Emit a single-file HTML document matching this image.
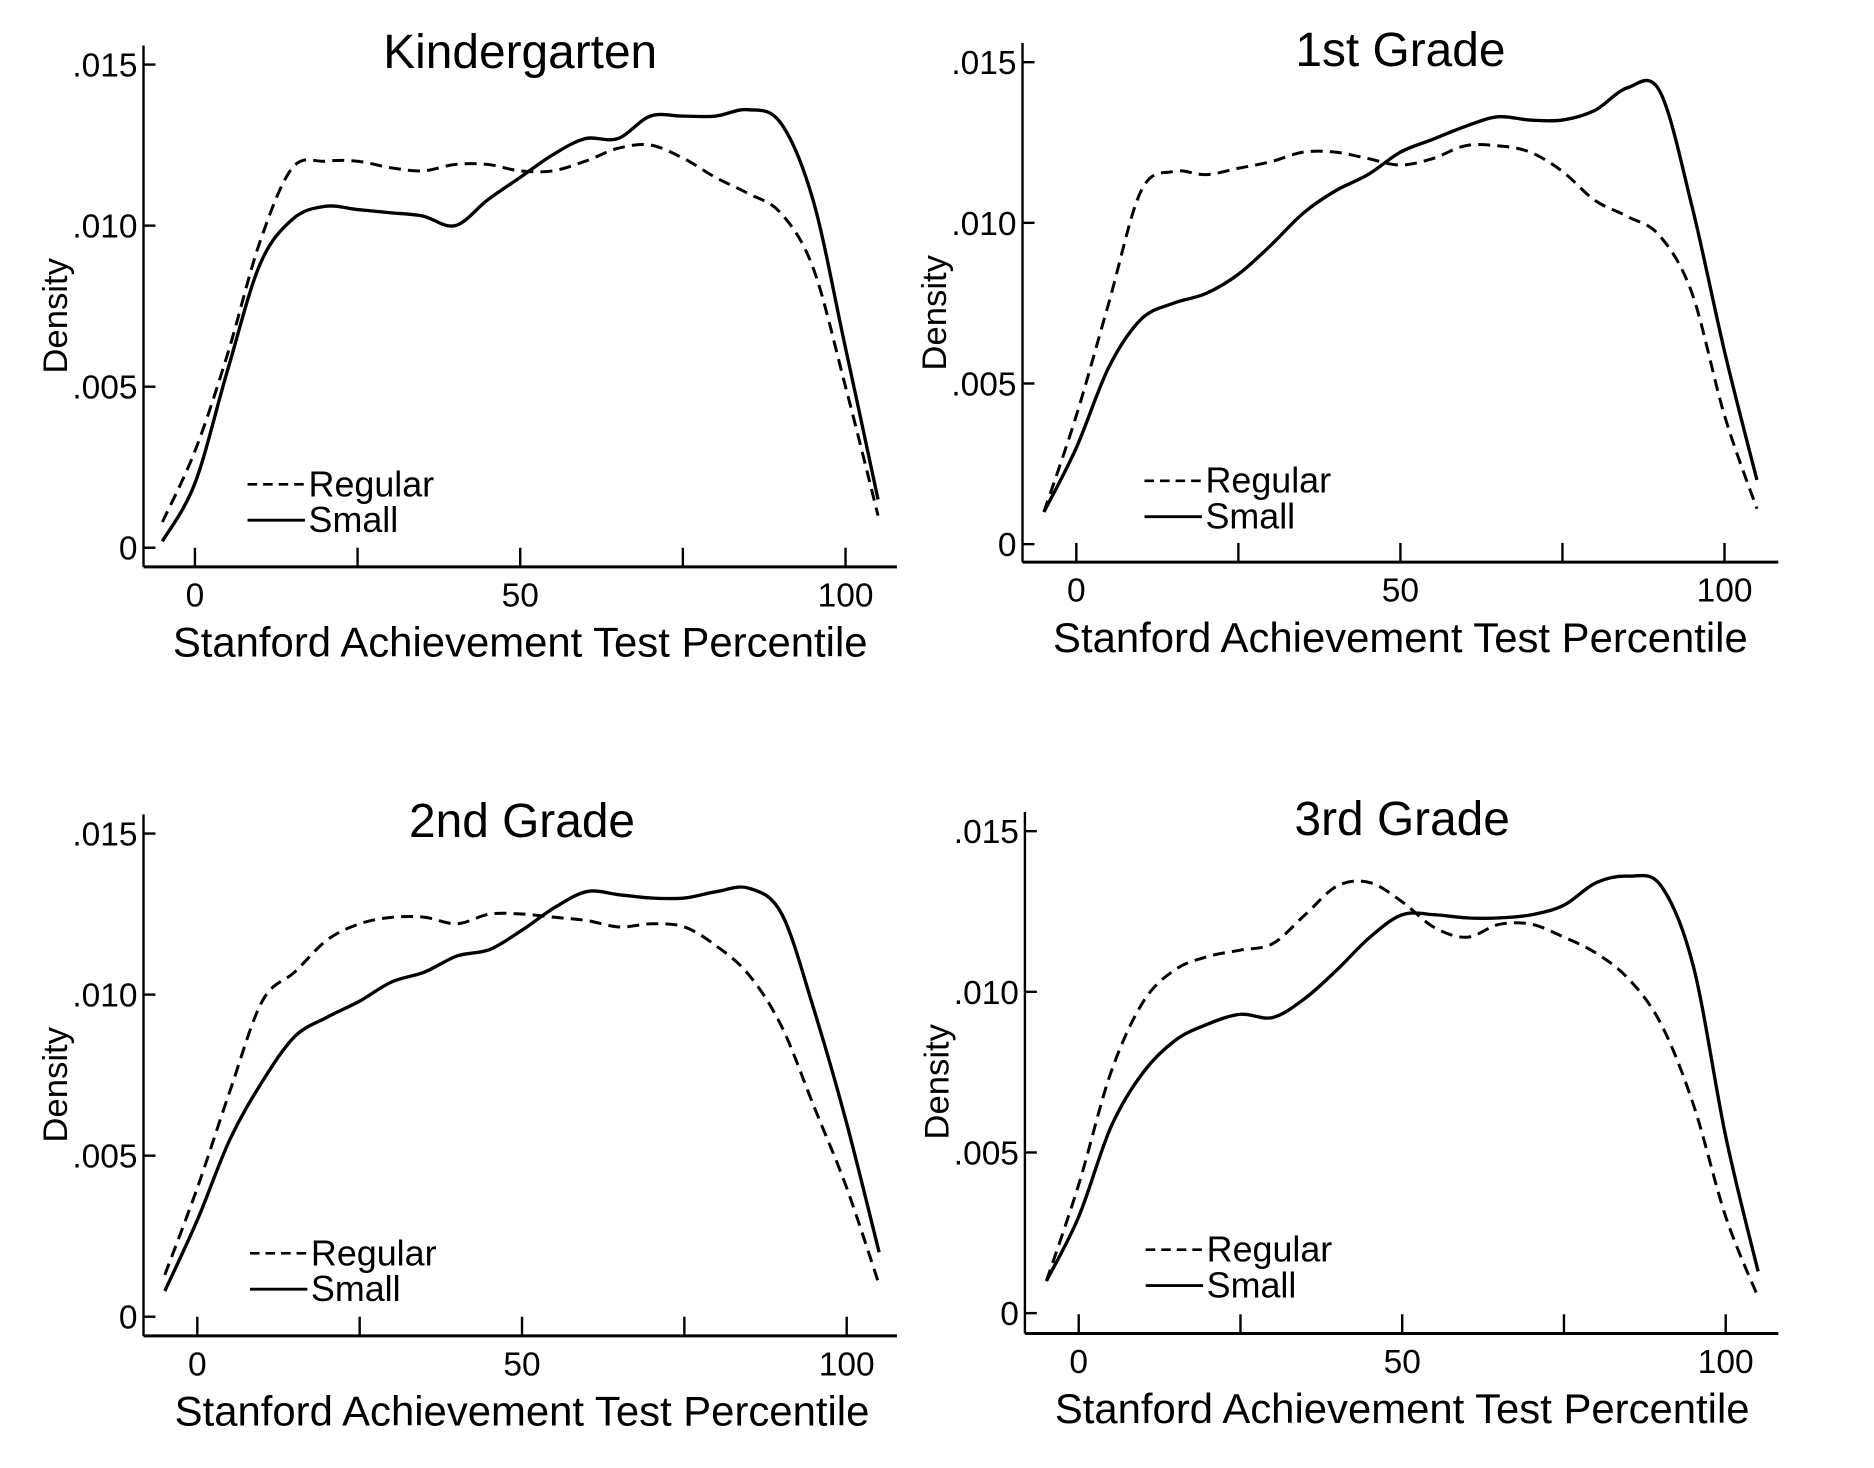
<!DOCTYPE html>
<html><head><meta charset="utf-8"><style>
html,body{margin:0;padding:0;background:#fff;}
svg{display:block;}
text{font-family:"Liberation Sans",sans-serif;fill:#000;}
</style></head><body>
<svg id="fig" width="1874" height="1468" viewBox="0 0 1567 1227.5" preserveAspectRatio="none" xmlns="http://www.w3.org/2000/svg"></svg>
<script>
const xGrid = [-5,0,5,10,15,20,25,30,35,40,45,50,55,60,65,70,75,80,85,90,95,100,105];
const kRegular = [.0008,.003,.006,.0095,.0118,.012,.012,.0118,.0117,.0119,.0119,.0117,.0117,.012,.0124,.0125,.0121,.0115,.011,.0104,.0087,.005,.001];
const kSmall = [.0002,.002,.0055,.0088,.0102,.0106,.0105,.0104,.0103,.0100,.0108,.0115,.0122,.0127,.0127,.0134,.0134,.0134,.0136,.0132,.0108,.0062,.0015];
const g1Regular = [.001,.004,.0075,.011,.0116,.0115,.0117,.0119,.0122,.0122,.012,.0118,.012,.0124,.0124,.0122,.0116,.0107,.0102,.0096,.0078,.004,.0011];
const g1Small = [.001,.003,.0055,.007,.0075,.0078,.0084,.0093,.0103,.011,.0115,.0122,.0126,.013,.0133,.0132,.0132,.0135,.0142,.0141,.0105,.006,.002];
const g2Regular = [.0013,.004,.007,.0098,.0107,.0117,.0122,.0124,.0124,.0122,.0125,.0125,.0124,.0123,.0121,.0122,.0121,.0115,.0106,.009,.0065,.004,.001];
const g2Small = [.0008,.003,.0055,.0073,.0087,.0093,.0098,.0104,.0107,.0112,.0114,.012,.0127,.0132,.0131,.013,.013,.0132,.0133,.0125,.0095,.006,.002];
const g3Regular = [.001,.004,.0075,.0097,.0107,.0111,.0113,.0115,.0124,.0133,.0134,.0128,.012,.0117,.0121,.0121,.0117,.0112,.0104,.009,.0065,.003,.0005];
const g3Small = [.001,.003,.0058,.0075,.0085,.009,.0093,.0092,.0098,.0107,.0117,.0124,.0124,.0123,.0123,.0124,.0127,.0134,.0136,.0133,.0108,.0055,.0013];
const xTicks = [0,25,50,75,100];
const xTickLabels = ["0","","50","","100"];
const yTicks = [0,.005,.010,.015];
const yTickLabels = ["0",".005",".010",".015"];
const titles = ["Kindergarten","1st Grade","2nd Grade","3rd Grade"];

const NS="http://www.w3.org/2000/svg";
const svg=document.getElementById('fig');
function mk(tag,attrs,parent){const e=document.createElementNS(NS,tag);for(const k in attrs)e.setAttribute(k,attrs[k]);(parent||svg).appendChild(e);return e;}

const panels=[
 {ax:120,axEnd:750,x0:163,x100:707,y0:458,y15:54,base:474,reg:kRegular,sm:kSmall,slug:'kindergarten',lg:44},
 {ax:855,axEnd:1487,x0:900,x100:1442,y0:455,y15:52,base:470,reg:g1Regular,sm:g1Small,slug:'grade-1',lg:57},
 {ax:120,axEnd:750,x0:165,x100:708,y0:1101,y15:697,base:1117,reg:g2Regular,sm:g2Small,slug:'grade-2',lg:44},
 {ax:857,axEnd:1487,x0:902,x100:1443,y0:1098,y15:695,base:1115,reg:g3Regular,sm:g3Small,slug:'grade-3',lg:56}
];

function smoothPath(pts){
  let d='M'+pts[0][0].toFixed(1)+','+pts[0][1].toFixed(1);
  for(let i=0;i<pts.length-1;i++){
    const p0=pts[Math.max(0,i-1)],p1=pts[i],p2=pts[i+1],p3=pts[Math.min(pts.length-1,i+2)];
    const c1=[p1[0]+(p2[0]-p0[0])/6,p1[1]+(p2[1]-p0[1])/6];
    const c2=[p2[0]-(p3[0]-p1[0])/6,p2[1]-(p3[1]-p1[1])/6];
    d+=' C'+c1[0].toFixed(1)+','+c1[1].toFixed(1)+' '+c2[0].toFixed(1)+','+c2[1].toFixed(1)+' '+p2[0].toFixed(1)+','+p2[1].toFixed(1);
  }
  return d;
}

panels.forEach((p,i)=>{
  const g=mk('g',{});
  
  
  const sx=v=>p.x0+(v/100)*(p.x100-p.x0);
  const sy=v=>p.y0-(v/0.015)*(p.y0-p.y15);
  const top=p.y15-16;
  const ya=mk('line',{x1:p.ax,y1:top,x2:p.ax,y2:p.base,stroke:'#000','stroke-width':2},g);
  
  
  const xa=mk('line',{x1:p.ax,y1:p.base,x2:p.axEnd,y2:p.base,stroke:'#000','stroke-width':2.5},g);
  
  
  yTicks.forEach((t,j)=>{
    mk('line',{x1:p.ax,y1:sy(t),x2:p.ax+10,y2:sy(t),stroke:'#000','stroke-width':2},g);
    const tl=mk('text',{x:p.ax-5,y:sy(t)+10,'text-anchor':'end','font-size':28},g);
    tl.textContent=yTickLabels[j];
    
    
  });
  xTicks.forEach((t,j)=>{
    mk('line',{x1:sx(t),y1:p.base,x2:sx(t),y2:p.base-16,stroke:'#000','stroke-width':2},g);
    if(xTickLabels[j]){
      const tl=mk('text',{x:sx(t),y:p.base+33,'text-anchor':'middle','font-size':28},g);
      tl.textContent=xTickLabels[j];
      
      
    }
  });
  const yl=mk('text',{x:0,y:0,'text-anchor':'middle','font-size':29,transform:'translate('+(p.ax-64)+','+(sy(0.0072))+') rotate(-90)'},g);
  yl.textContent='Density';
  
  
  const xl=mk('text',{x:sx(50),y:p.base+75,'text-anchor':'middle','font-size':35},g);
  xl.textContent='Stanford Achievement Test Percentile';
  
  
  const ti=mk('text',{x:sx(50),y:p.y15+3,'text-anchor':'middle','font-size':40},g);
  ti.textContent=titles[i];
  
  
  const rp=mk('path',{d:smoothPath(xGrid.map((x,k)=>[sx(x),sy(p.reg[k])])),fill:'none',stroke:'#000','stroke-width':2.5,'stroke-dasharray':'10,6'},g);
  
  
  const sp=mk('path',{d:smoothPath(xGrid.map((x,k)=>[sx(x),sy(p.sm[k])])),fill:'none',stroke:'#000','stroke-width':2.8},g);
  
  
  const lx=p.x0+p.lg, ly=p.y0-53;
  mk('line',{x1:lx,y1:ly,x2:lx+48,y2:ly,stroke:'#000','stroke-width':2.2,'stroke-dasharray':'8,5'},g);
  const l1=mk('text',{x:lx+51,y:ly+10,'font-size':30},g);
  l1.textContent='Regular';
  
  
  mk('line',{x1:lx,y1:ly+30,x2:lx+48,y2:ly+30,stroke:'#000','stroke-width':2.4},g);
  const l2=mk('text',{x:lx+51,y:ly+40,'font-size':30},g);
  l2.textContent='Small';
  
  
});
</script>
</body></html>
